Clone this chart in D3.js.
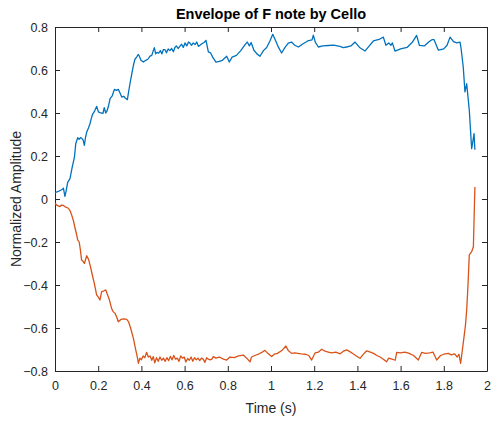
<!DOCTYPE html>
<html><head><meta charset="utf-8">
<script src="https://cdn.jsdelivr.net/npm/d3@7"></script>
<style>body{margin:0;background:#fff}svg{display:block}text{font-family:"Liberation Sans",Arial,sans-serif}</style>
</head><body><svg id="c" width="491" height="423"></svg>
<script>
const title = "Envelope of F note by Cello";
const xLabel = "Time (s)";
const yLabel = "Normalized Amplitude";
const xTicks = [0,0.2,0.4,0.6,0.8,1,1.2,1.4,1.6,1.8,2];
const yTicks = [-0.8,-0.6,-0.4,-0.2,0,0.2,0.4,0.6,0.8];

const upperTime = [0.000,0.015,0.031,0.039,0.046,0.052,0.059,0.069,0.080,0.090,0.096,0.105,0.112,0.118,0.123,0.130,0.136,0.141,0.147,0.155,0.162,0.168,0.174,0.184,0.193,0.201,0.208,0.216,0.222,0.228,0.235,0.241,0.247,0.255,0.265,0.275,0.284,0.293,0.300,0.309,0.318,0.325,0.335,0.341,0.347,0.355,0.363,0.370,0.378,0.385,0.389,0.398,0.409,0.420,0.430,0.440,0.448,0.455,0.460,0.466,0.472,0.480,0.488,0.495,0.502,0.509,0.516,0.524,0.532,0.540,0.548,0.555,0.562,0.570,0.578,0.586,0.594,0.602,0.610,0.618,0.625,0.632,0.640,0.648,0.656,0.664,0.671,0.680,0.690,0.699,0.710,0.720,0.730,0.745,0.760,0.775,0.795,0.807,0.820,0.840,0.860,0.880,0.890,0.900,0.908,0.921,0.935,0.949,0.965,0.980,0.995,1.008,1.022,1.035,1.049,1.065,1.080,1.095,1.110,1.127,1.145,1.170,1.190,1.196,1.205,1.219,1.240,1.265,1.290,1.319,1.335,1.350,1.370,1.389,1.410,1.435,1.455,1.474,1.500,1.520,1.532,1.545,1.555,1.562,1.574,1.600,1.630,1.655,1.674,1.687,1.710,1.730,1.745,1.755,1.775,1.800,1.815,1.829,1.845,1.860,1.875,1.880,1.890,1.898,1.906,1.918,1.929,1.935,1.940,1.944];
const upperAmp = [0.029,0.035,0.043,0.050,0.012,0.040,0.079,0.094,0.149,0.195,0.257,0.285,0.278,0.285,0.283,0.275,0.250,0.285,0.312,0.330,0.350,0.375,0.394,0.410,0.431,0.405,0.402,0.400,0.398,0.425,0.400,0.410,0.430,0.467,0.480,0.510,0.505,0.510,0.495,0.474,0.478,0.470,0.462,0.500,0.536,0.580,0.622,0.650,0.660,0.672,0.668,0.645,0.637,0.645,0.650,0.665,0.668,0.690,0.704,0.675,0.682,0.678,0.690,0.675,0.695,0.695,0.680,0.698,0.690,0.700,0.685,0.705,0.712,0.700,0.710,0.720,0.705,0.726,0.712,0.730,0.725,0.715,0.726,0.718,0.730,0.710,0.715,0.722,0.728,0.738,0.684,0.680,0.660,0.637,0.640,0.645,0.664,0.637,0.660,0.668,0.690,0.718,0.730,0.712,0.728,0.692,0.675,0.664,0.690,0.705,0.735,0.766,0.735,0.705,0.679,0.705,0.725,0.730,0.715,0.707,0.720,0.735,0.740,0.762,0.730,0.707,0.712,0.714,0.716,0.710,0.704,0.707,0.712,0.730,0.705,0.688,0.712,0.735,0.742,0.753,0.715,0.726,0.715,0.726,0.688,0.698,0.705,0.730,0.761,0.715,0.712,0.730,0.741,0.741,0.692,0.698,0.715,0.753,0.732,0.726,0.730,0.700,0.614,0.498,0.536,0.413,0.234,0.270,0.304,0.229];

const lowerTime = [0.000,0.010,0.023,0.030,0.039,0.050,0.062,0.070,0.077,0.085,0.093,0.100,0.105,0.112,0.118,0.123,0.130,0.136,0.142,0.147,0.155,0.163,0.172,0.182,0.193,0.200,0.208,0.216,0.225,0.235,0.245,0.252,0.262,0.270,0.278,0.286,0.293,0.305,0.318,0.332,0.340,0.350,0.363,0.373,0.380,0.386,0.393,0.400,0.408,0.416,0.424,0.432,0.440,0.448,0.455,0.462,0.470,0.478,0.486,0.494,0.502,0.510,0.518,0.526,0.534,0.542,0.550,0.558,0.566,0.574,0.582,0.590,0.598,0.606,0.614,0.622,0.630,0.638,0.646,0.654,0.662,0.670,0.678,0.686,0.694,0.702,0.710,0.718,0.726,0.733,0.745,0.760,0.780,0.795,0.810,0.830,0.850,0.872,0.885,0.903,0.910,0.925,0.945,0.960,0.972,0.985,1.003,1.015,1.030,1.050,1.069,1.080,1.095,1.110,1.125,1.140,1.160,1.175,1.188,1.204,1.220,1.235,1.250,1.265,1.280,1.300,1.320,1.335,1.350,1.365,1.380,1.395,1.412,1.425,1.443,1.460,1.475,1.490,1.505,1.520,1.535,1.545,1.560,1.575,1.582,1.600,1.620,1.640,1.660,1.682,1.698,1.715,1.735,1.750,1.767,1.785,1.800,1.821,1.835,1.850,1.862,1.870,1.878,1.890,1.900,1.906,1.912,1.918,1.929,1.937,1.940,1.944];
const lowerAmp = [-0.020,-0.030,-0.035,-0.028,-0.030,-0.038,-0.043,-0.055,-0.074,-0.100,-0.136,-0.165,-0.190,-0.200,-0.240,-0.284,-0.290,-0.300,-0.280,-0.264,-0.280,-0.310,-0.350,-0.392,-0.447,-0.455,-0.470,-0.431,-0.428,-0.423,-0.450,-0.470,-0.509,-0.525,-0.532,-0.550,-0.571,-0.560,-0.558,-0.560,-0.570,-0.600,-0.648,-0.698,-0.730,-0.764,-0.740,-0.748,-0.730,-0.738,-0.713,-0.735,-0.730,-0.750,-0.733,-0.762,-0.738,-0.755,-0.735,-0.750,-0.740,-0.755,-0.738,-0.752,-0.732,-0.748,-0.728,-0.745,-0.740,-0.755,-0.730,-0.740,-0.735,-0.758,-0.742,-0.750,-0.735,-0.755,-0.738,-0.748,-0.740,-0.752,-0.740,-0.745,-0.760,-0.738,-0.745,-0.748,-0.745,-0.733,-0.740,-0.735,-0.745,-0.749,-0.735,-0.738,-0.730,-0.726,-0.738,-0.757,-0.735,-0.728,-0.720,-0.712,-0.704,-0.718,-0.733,-0.722,-0.718,-0.705,-0.684,-0.705,-0.718,-0.716,-0.718,-0.720,-0.722,-0.728,-0.749,-0.716,-0.712,-0.699,-0.708,-0.712,-0.716,-0.712,-0.720,-0.708,-0.702,-0.710,-0.720,-0.730,-0.741,-0.725,-0.706,-0.712,-0.718,-0.728,-0.735,-0.745,-0.757,-0.740,-0.745,-0.750,-0.713,-0.716,-0.712,-0.718,-0.728,-0.749,-0.713,-0.718,-0.716,-0.712,-0.749,-0.728,-0.722,-0.718,-0.725,-0.720,-0.735,-0.722,-0.764,-0.671,-0.590,-0.516,-0.400,-0.260,-0.245,-0.222,-0.100,0.056];

const svg = d3.select("#c");
const L = 55, R = 487, T = 27, B = 371;
const x = d3.scaleLinear().domain([0,2]).range([L,R]);
const y = d3.scaleLinear().domain([-0.8,0.8]).range([B,T]);
const axisCol = "#262626";
const tickFmt = d => d3.format("")(+d.toFixed(1));

const gx = svg.append("g").attr("transform",`translate(0,${B})`)
  .call(d3.axisBottom(x).tickValues(xTicks).tickSizeInner(-5).tickSizeOuter(0).tickPadding(10).tickFormat(tickFmt));
const gxt = svg.append("g").attr("transform",`translate(0,${T})`)
  .call(d3.axisTop(x).tickValues(xTicks).tickSizeInner(-5).tickSizeOuter(0).tickFormat(""));
const gy = svg.append("g").attr("transform",`translate(${L},0)`)
  .call(d3.axisLeft(y).tickValues(yTicks).tickSizeInner(-5).tickSizeOuter(0).tickPadding(7).tickFormat(tickFmt));
const gyr = svg.append("g").attr("transform",`translate(${R},0)`)
  .call(d3.axisRight(y).tickValues(yTicks).tickSizeInner(-5).tickSizeOuter(0).tickFormat(""));
[gx,gxt,gy,gyr].forEach(g=>{
  g.selectAll("path.domain").attr("stroke",axisCol).attr("stroke-width",1);
  g.selectAll(".tick line").attr("stroke",axisCol).attr("stroke-width",1);
  g.selectAll(".tick text").attr("fill","#262626").attr("font-size","12.5px").attr("font-family","'Liberation Sans',Arial,sans-serif");
});

const line = d3.line().x(d=>x(d[0])).y(d=>y(d[1]));
const upper = upperTime.map((t,i)=>[t,upperAmp[i]]);
const lower = lowerTime.map((t,i)=>[t,lowerAmp[i]]);
svg.append("path").datum(upper).attr("d",line).attr("fill","none").attr("stroke","#0072BD").attr("stroke-width",1.3).attr("stroke-linejoin","round");
svg.append("path").datum(lower).attr("d",line).attr("fill","none").attr("stroke","#D95319").attr("stroke-width",1.3).attr("stroke-linejoin","round");

svg.append("text").attr("x",(L+R)/2).attr("y",19).attr("text-anchor","middle")
  .attr("font-weight","bold").attr("font-size","14.5px").attr("fill","#000").text(title);
svg.append("text").attr("x",(L+R)/2).attr("y",413).attr("text-anchor","middle")
  .attr("font-size","14px").attr("fill","#262626").text(xLabel);
svg.append("text").attr("transform",`translate(21,${(T+B)/2}) rotate(-90)`).attr("text-anchor","middle")
  .attr("font-size","14px").attr("fill","#262626").text(yLabel);
</script></body></html>
